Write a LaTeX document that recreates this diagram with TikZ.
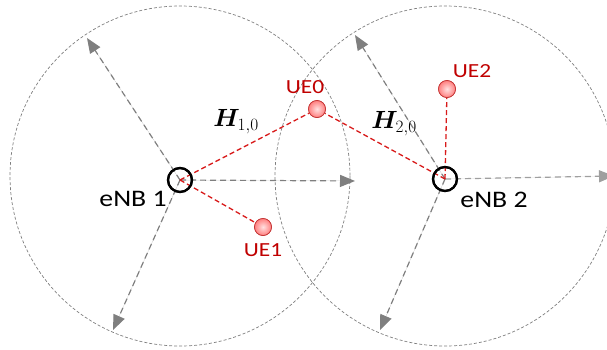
\documentclass[tikz,border=0pt]{standalone}
\usepackage{amsmath,bm}
\usepackage{fontspec}
\setmainfont{Carlito}[FakeStretch=1.17]
\usetikzlibrary{arrows.meta}
\definecolor{uered}{HTML}{C00000}
\definecolor{linkred}{HTML}{D81A1A}
\definecolor{rangegray}{HTML}{7F7F7F}
\begin{document}
\begin{tikzpicture}[x=1pt,y=-1pt,
    celledge/.style={draw=rangegray,line width=0.7pt,dash pattern=on 3pt off 2pt},
    rangearrow/.style={draw=rangegray,line width=1.2pt,dash pattern=on 6pt off 4pt,
        -{Triangle[length=15pt,width=12pt]},fill=rangegray},
    uelink/.style={draw=linkred,line width=1.3pt,dash pattern=on 5pt off 3pt},
    enb/.style={circle,draw=black,line width=2.2pt,minimum size=24pt,inner sep=0pt},
    ue/.style={circle,draw=red!70!black!80,line width=0.7pt,inner color=red!12,
        outer color=red!50,minimum size=17pt,inner sep=0pt},
    uelabel/.style={text=uered,font=\fontsize{20}{22}\selectfont},
    enblabel/.style={font=\fontsize{23.7}{26}\selectfont},
    chanlabel/.style={font=\fontsize{25}{28}\selectfont} ]
    \useasboundingbox (0,0) rectangle (607,349);
    % cells
    \draw [celledge] (180,176) circle (170);
    \draw [celledge] (445,176) circle (170);
    % base stations and users
    \node at (180,180) [enb] (enb1) {};
    \node at (445,179) [enb] (enb2) {};
    \node at (317,109) [ue] (ue0) {};
    \node at (263,227) [ue] (ue1) {};
    \node at (447,89) [ue] (ue2) {};
    % range arrows
    \coordinate (a1) at (87,38);
    \coordinate (a2) at (355,181);
    \coordinate (a3) at (113,330);
    \coordinate (b1) at (355,35);
    \coordinate (b2) at (614,176);
    \coordinate (b3) at (380,330);
    \draw [rangearrow] (enb1.center) to (a1);
    \draw [rangearrow] (enb1.center) to (a2);
    \draw [rangearrow] (enb1.center) to (a3);
    \draw [rangearrow] (enb2.center) to (b1);
    \draw [rangearrow,draw=rangegray!75,fill=rangegray!75] (enb2.center) to (b2);
    \draw [rangearrow] (enb2.center) to (b3);
    % links
    \draw [uelink] (enb1.center) to (ue0);
    \draw [uelink] (enb1.center) to (ue1);
    \draw [uelink] (enb2.center) to (ue0);
    \draw [uelink] (enb2.center) to (ue2);
    \node at (180,180) [enb] {};
    \node at (445,179) [enb] {};
    \node at (317,109) [ue] {};
    \node at (263,227) [ue] {};
    \node at (447,89) [ue] {};
    % labels
    \node at (133,199) [enblabel] (l1) {eNB 1};
    \node at (494,200) [enblabel] (l2) {eNB 2};
    \node at (305,87) [uelabel] (u0) {UE0};
    \node at (263,250) [uelabel] (u1) {UE1};
    \node at (472,71) [uelabel] (u2) {UE2};
    \node at (236,122) [chanlabel] (h1) {$\bm{H}_{1,0}$};
    \node at (394,124) [chanlabel] (h2) {$\bm{H}_{2,0}$};
\end{tikzpicture}
\end{document}
